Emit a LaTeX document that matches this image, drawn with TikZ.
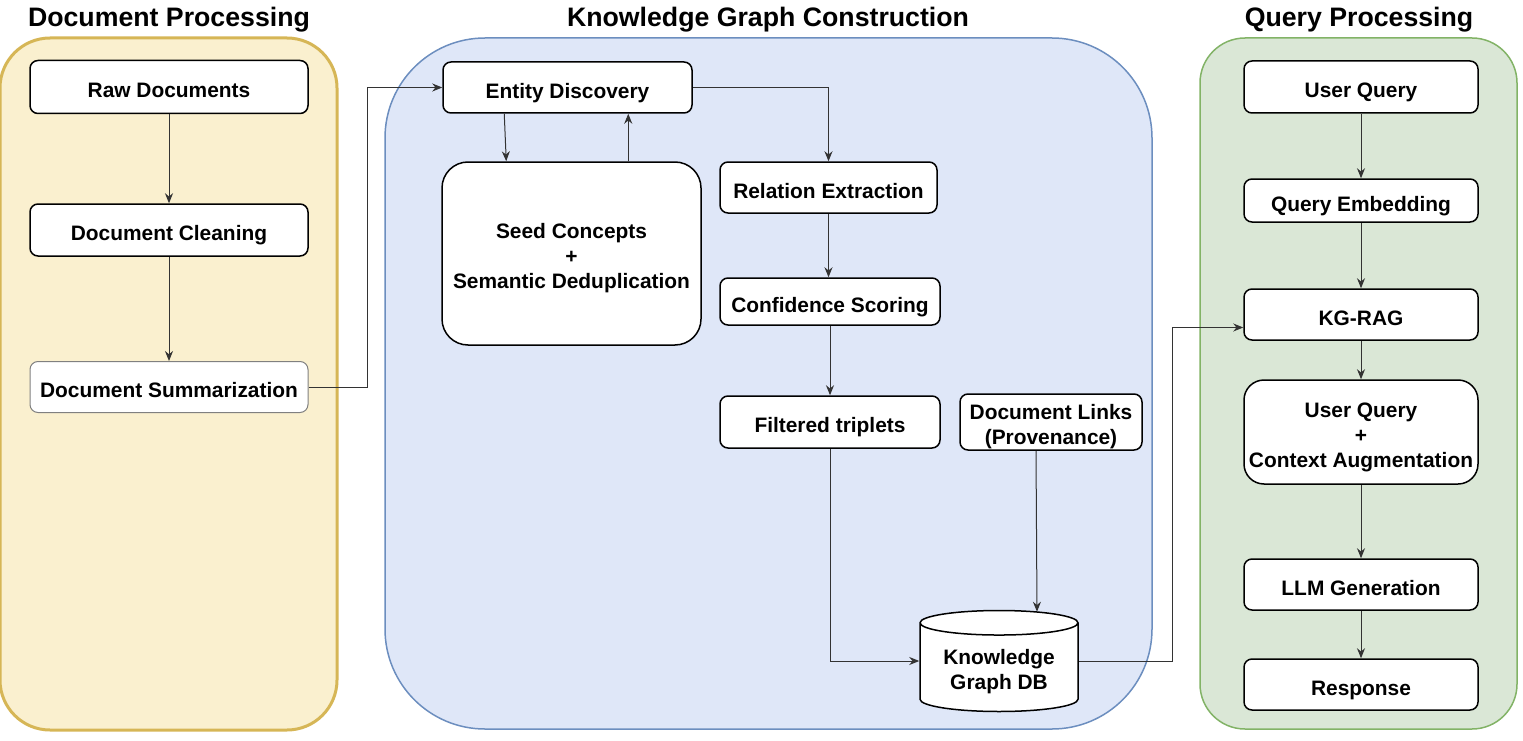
\documentclass[tikz,border=0pt]{standalone}
\usepackage{fontspec}
\setmainfont{Liberation Sans}
\usepackage{xcolor}
\usepackage{tikz}
\usetikzlibrary{shapes.geometric, arrows.meta, positioning, calc}
\definecolor{docfill}{HTML}{FAF0CF}
\definecolor{docdraw}{HTML}{D6B656}
\definecolor{kgfill}{HTML}{DFE7F8}
\definecolor{kgdraw}{HTML}{6C8EBF}
\definecolor{qfill}{HTML}{DAE7D6}
\definecolor{qdraw}{HTML}{82B366}
\definecolor{flowline}{HTML}{333333}
\newcommand{\toprule}{\rule{0pt}{25.5pt}}
\newcommand{\dbrule}{\rule{0pt}{23.5pt}}
\newcommand{\botrule}{\rule[-5.5pt]{0pt}{5.5pt}}
\tikzset{
    stage/.style={
        rectangle,
        rounded corners=8pt,
        draw=black,
        line width=1.5pt,
        fill=white,
        align=center,
        inner sep=0pt,
        font=\fontsize{20.9}{25}\selectfont\bfseries,
        execute at begin node={\rule{0pt}{27pt}},
        execute at end node={\rule[-5.5pt]{0pt}{5.5pt}}
    },
    bigstage/.style={
        stage,
        rounded corners=26pt
    },
    lightstage/.style={
        stage,
        draw=black!50,
        line width=1pt
    },
    dbstage/.style={
        cylinder,
        shape border rotate=90,
        aspect=0.22,
        draw=black,
        line width=1.5pt,
        fill=white,
        align=center,
        inner sep=0pt,
        font=\fontsize{20.9}{25}\selectfont\bfseries
    },
    panel/.style={
        rounded corners=50pt,
        line width=1.5pt
    },
    paneltitle/.style={
        anchor=base,
        inner sep=0pt,
        font=\fontsize{26.7}{32}\selectfont\bfseries
    },
    flow/.style={
        draw=flowline,
        line width=1pt,
        -{Stealth[length=10pt,width=8pt]}
    }
}

\begin{document}
\begin{tikzpicture}[x=1pt, y=-1pt]
\useasboundingbox (0,0) rectangle (1523,741);

% Panels
\draw[panel, fill=docfill, draw=docdraw, line width=3pt] (0,38) rectangle (337,730);
\draw[panel, rounded corners=100pt, fill=kgfill, draw=kgdraw] (385,38) rectangle (1152,729);
\draw[panel, rounded corners=45pt, fill=qfill, draw=qdraw] (1200,38) rectangle (1517,729);

\node[paneltitle] (doctitle) at (169,27) {Document Processing};
\node[paneltitle] (kgtitle) at (768,27) {Knowledge Graph Construction};
\node[paneltitle] (qtitle) at (1359,27) {Query Processing};

% Document processing
\node[stage, minimum width=278pt, minimum height=53pt] (rawdoc) at (169,87) {Raw Documents};
\node[stage, minimum width=278pt, minimum height=52pt] (docclean) at (169,230) {Document Cleaning};
\node[lightstage, minimum width=278pt, minimum height=51pt] (docsum) at (169,387) {Document Summarization};

\draw[flow] (rawdoc) -- (docclean);
\draw[flow] (docclean) -- (docsum);

% Knowledge graph construction
\node[stage, minimum width=249pt, minimum height=51pt] (entity) at (567.5,87.5) {Entity Discovery};
\node[bigstage, minimum width=259pt, minimum height=183pt] (seed) at (571.5,253.5) {\toprule Seed Concepts\\+\\Semantic Deduplication\botrule};
\node[stage, minimum width=217pt, minimum height=51pt] (relext) at (828.5,187.5) {Relation Extraction};
\node[stage, minimum width=220pt, minimum height=47pt] (confscore) at (830,301.5) {Confidence Scoring};
\node[stage, minimum width=220pt, minimum height=52pt] (filtered) at (830,422) {Filtered triplets};
\node[stage, minimum width=182pt, minimum height=52pt] (doclinks) at (1051,422) {\toprule Document Links\\(Provenance)\botrule};
\node[dbstage, minimum width=158pt, minimum height=101pt, anchor=shape center] (kgdb) at (999,661) {\dbrule Knowledge\\Graph DB\botrule};

\draw[flow] (docsum.east) -- ++(59,0) |- (entity.west);
\draw[flow] ($(entity.south west)+(62,0)$) -- ($(seed.north west)+(65,0)$);
\draw[flow] ($(seed.north west)+(187,0)$) -- ($(entity.south west)+(186,0)$);
\draw[flow] (entity.east) -| (relext.north);
\draw[flow] (relext.south) -- (relext.south |- confscore.north);
\draw[flow] (confscore) -- (filtered);
\draw[flow] (filtered.south) |- (kgdb.shape center -| kgdb.west);
\draw[flow] ($(doclinks.south)+(-15,0)$) -- ($(kgdb.north)+(38,2)$);

% Query processing
\node[stage, minimum width=234pt, minimum height=52pt] (userq) at (1361,87) {User Query};
\node[stage, minimum width=234pt, minimum height=43pt] (qemb) at (1361,200.5) {Query Embedding};
\node[stage, minimum width=234pt, minimum height=51pt] (kgrag) at (1361,314.5) {KG-RAG};
\node[bigstage, rounded corners=20pt, minimum width=234pt, minimum height=104pt] (ctxaug) at (1361,432) {\toprule User Query\\+\\Context Augmentation\botrule};
\node[stage, minimum width=234pt, minimum height=51pt] (llmgen) at (1361,584.5) {LLM Generation};
\node[stage, minimum width=234pt, minimum height=51pt] (resp) at (1361,684.5) {Response};

\draw[flow] (kgdb.shape center -| kgdb.east) -- ++(94,0) |- ($(kgrag.west)+(0,13)$);
\draw[flow] (userq) -- (qemb);
\draw[flow] (qemb) -- (kgrag);
\draw[flow] (kgrag) -- (ctxaug);
\draw[flow] (ctxaug) -- (llmgen);
\draw[flow] (llmgen) -- (resp);

\end{tikzpicture}
\end{document}
